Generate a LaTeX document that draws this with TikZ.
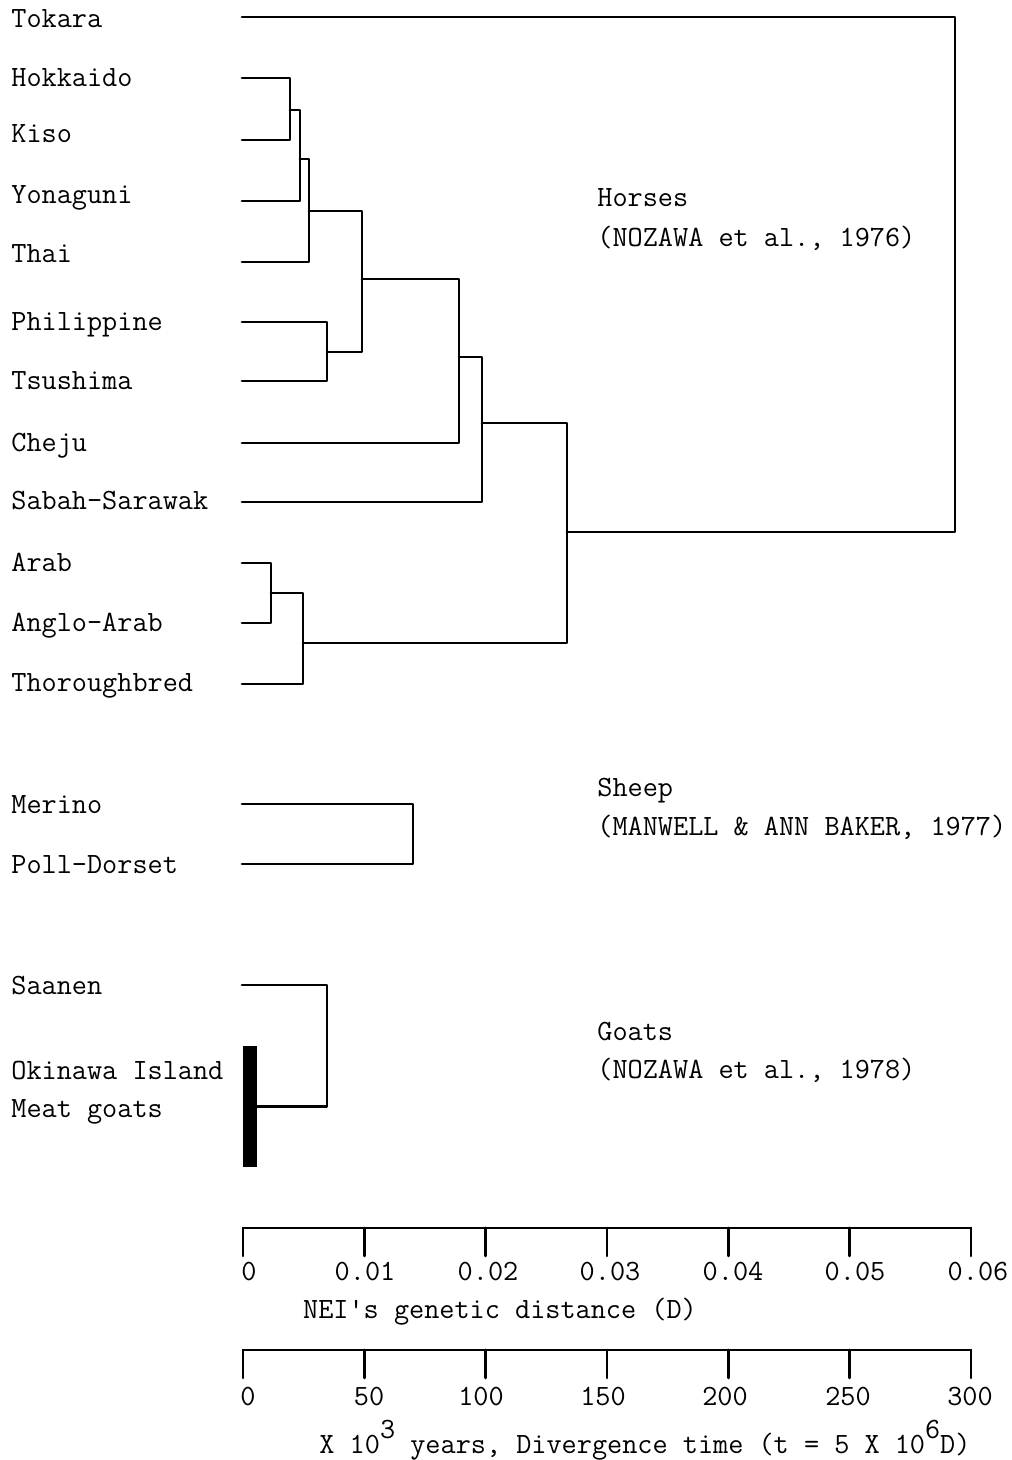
\documentclass[tikz,border=0pt]{standalone}
\usepackage{fontspec}
\setmonofont{Latin Modern Mono}
\newcommand{\sups}[1]{\raisebox{0.5em}{#1}}
\frenchspacing

\begin{document}
\begin{tikzpicture}[x=0.5pt, y=-0.5pt,
    every node/.style={font=\ttfamily\fontsize{14.7}{16}\selectfont, inner sep=0pt},
    lbl/.style={anchor=base west},
    branch/.style={line width=1.45pt, line join=round, line cap=round},
    scaleline/.style={line width=1.3pt, line cap=round}]

    \useasboundingbox (0,0) rectangle (1011,1460);

    % 1. NOMBRES DE LAS RAZAS (columna izquierda)
    \foreach \name/\txt/\y in {tok/Tokara/28, hok/Hokkaido/87, kis/Kiso/143,
        yon/Yonaguni/204, tha/Thai/263, phi/Philippine/330, tsu/Tsushima/389,
        che/Cheju/451, sab/Sabah-Sarawak/509, ara/Arab/571, ang/Anglo-Arab/631,
        tho/Thoroughbred/691, mer/Merino/813, pol/Poll-Dorset/873,
        saa/Saanen/994, oki/Okinawa Island/1079, mea/Meat goats/1117}
        \node[lbl] (\name) at (11,\y) {\txt};

    % puntas de las ramas
    \foreach \name/\y in {tok/17, hok/78, kis/140, yon/201, tha/262, phi/322,
        tsu/381, che/443, sab/502, ara/563, ang/623, tho/684, mer/804,
        pol/864, saa/985}
        \coordinate (\name-tip) at (242,\y);

    % 2. NODOS INTERNOS DEL DENDROGRAMA
    \coordinate (hk)    at (290,110);
    \coordinate (hky)   at (300,159);
    \coordinate (hkyt)  at (309,211);
    \coordinate (pt)    at (327,352);
    \coordinate (jp)    at (362,279);
    \coordinate (jpc)   at (459,357);
    \coordinate (jpcs)  at (482,423);
    \coordinate (aa)    at (271,593);
    \coordinate (aat)   at (303,643);
    \coordinate (all)   at (567,532);
    \coordinate (horse) at (955,275);
    \coordinate (sheep) at (413,834);
    \coordinate (goat)  at (327,1046);

    % Cabras de Okinawa (barra negra)
    \node[fill=black, minimum width=7pt, minimum height=60.5pt] (bar) at (250,1106.5) {};

    % 3. RAMAS (hijo -| padre)
    \foreach \a/\b in {hok-tip/hk, kis-tip/hk, hk/hky, yon-tip/hky, hky/hkyt,
        tha-tip/hkyt, phi-tip/pt, tsu-tip/pt, hkyt/jp, pt/jp, jp/jpc,
        che-tip/jpc, jpc/jpcs, sab-tip/jpcs, ara-tip/aa, ang-tip/aa, aa/aat,
        tho-tip/aat, jpcs/all, aat/all, tok-tip/horse, all/horse,
        mer-tip/sheep, pol-tip/sheep, saa-tip/goat, bar.east/goat}
        \draw[branch] (\a) -| (\b);

    % 4. GRUPOS Y REFERENCIAS
    \node[lbl] (horses)   at (597,207)  {Horses};
    \node[lbl] (horseref) at (597,247)  {(NOZAWA et al., 1976)};
    \node[lbl] (sheeps)   at (597,796)  {Sheep};
    \node[lbl] (sheepref) at (597,835)  {(MANWELL \& ANN BAKER, 1977)};
    \node[lbl] (goats)    at (597,1040) {Goats};
    \node[lbl] (goatref)  at (597,1078) {(NOZAWA et al., 1978)};

    % 5. ESCALAS (distancia genetica y tiempo)
    \draw[scaleline] (243,1228) -- (971,1228);
    \foreach \i/\lab/\lx in {0/0/249, 1/0.01/365, 2/0.02/488, 3/0.03/610,
        4/0.04/733, 5/0.05/855, 6/0.06/978} {
        \draw[scaleline] (243+\i*121.33,1228) -- (243+\i*121.33,1256);
        \node[anchor=base] (dist\i) at (\lx,1280) {\lab};
    }
    \node[anchor=base] (distcap) at (500,1318) {NEI's genetic distance (D)};

    \draw[scaleline] (243,1350) -- (971,1350);
    \foreach \i/\lab/\lx in {0/0/248, 1/50/369, 2/100/481, 3/150/603,
        4/200/725, 5/250/848, 6/300/970} {
        \draw[scaleline] (243+\i*121.33,1350) -- (243+\i*121.33,1378);
        \node[anchor=base] (time\i) at (\lx,1405) {\lab};
    }
    \node[anchor=base] (timecap) at (645,1453)
        {X 10\sups{3} years, Divergence time (t = 5 X 10\sups{6}D)};

\end{tikzpicture}
\end{document}
